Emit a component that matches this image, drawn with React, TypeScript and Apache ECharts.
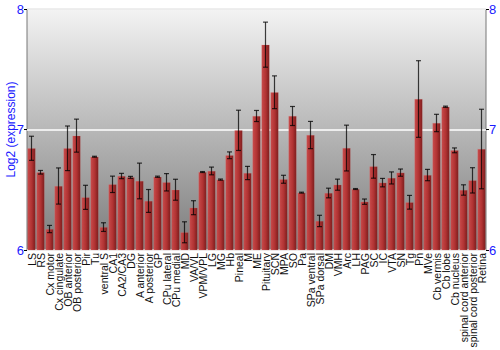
import React, { useEffect, useRef } from "react";
import * as echarts from "echarts";

const categories = [
  "LS", "RS", "Cx motor", "Cx cingulate", "OB anterior", "OB posterior", "Pir", "Tu", "ventral S", "CA1",
  "CA2/CA3", "DG", "A anterior", "A posterior", "GP", "CPu lateral", "CPu medial", "MD", "VA/VL", "VPM/VPL",
  "LG", "MG", "Hb", "Pineal", "M", "ME", "Pituitary", "SCN", "MPA", "SO",
  "Pa", "SPa ventral", "SPa dorsal", "DM", "VMH", "Arc", "LH", "PAG", "SC", "IC",
  "VTA", "SN", "Tg", "Pn", "MVe", "Cb vermis", "Cb lobe", "Cb nucleus", "spinal cord anterior", "spinal cord posterior",
  "Retina",
];

const values = [
  6.844, 6.645, 6.174, 6.531, 6.844, 6.949, 6.437, 6.774, 6.19, 6.545,
  6.614, 6.603, 6.573, 6.407, 6.608, 6.562, 6.5, 6.147, 6.351, 6.647,
  6.656, 6.584, 6.786, 6.993, 6.639, 7.112, 7.704, 7.309, 6.587, 7.112,
  6.476, 6.954, 6.241, 6.473, 6.542, 6.846, 6.506, 6.401, 6.694, 6.559,
  6.598, 6.642, 6.396, 7.253, 6.622, 7.054, 7.189, 6.827, 6.498, 6.578,
  6.838,
];

const errors = [
  0.1, 0.015, 0.03, 0.15, 0.185, 0.137, 0.1, 0.004, 0.036, 0.068,
  0.022, 0.008, 0.148, 0.095, 0.005, 0.072, 0.087, 0.087, 0.058, 0.004,
  0.032, 0.005, 0.028, 0.167, 0.055, 0.046, 0.187, 0.136, 0.033, 0.079,
  0.004, 0.113, 0.047, 0.04, 0.046, 0.19, 0.004, 0.022, 0.098, 0.035,
  0.05, 0.03, 0.057, 0.318, 0.047, 0.072, 0.005, 0.02, 0.043, 0.105,
  0.33,
];

const yTicks = [6, 7, 8];

export default function App() {
  const ref = useRef<HTMLDivElement>(null);
  useEffect(() => {
    if (!ref.current) return;
    const chart = echarts.init(ref.current, undefined, { renderer: "svg" });
    const errData = values.map((v, i) => [i, v - errors[i], v + errors[i]]);
    const blue = "#1a1aff";
    const yAxisCommon = {
      type: "value",
      min: yTicks[0],
      max: yTicks[yTicks.length - 1],
      interval: 1,
      axisLine: { show: false },
      axisTick: { show: true, length: 3, lineStyle: { color: "#000" } },
      axisLabel: { color: blue, fontSize: 13, fontFamily: "Liberation Sans, Arial, sans-serif", margin: 3 },
    };
    chart.setOption({
      animation: false,
      grid: {
        left: 27,
        right: 14,
        top: 9,
        bottom: 100,
        outerBoundsMode: "none",
        containLabel: false,
        show: true,
        borderColor: "#777",
        borderWidth: 1,
        backgroundColor: new echarts.graphic.LinearGradient(0, 0, 0, 1, [
          { offset: 0, color: "#f3f3f3" },
          { offset: 1, color: "#7c7c7c" },
        ]),
      },
      xAxis: {
        type: "category",
        data: categories,
        axisLine: { show: false },
        axisTick: { show: false },
        axisLabel: {
          interval: 0,
          rotate: 90,
          fontSize: 10.5,
          color: "#111",
          margin: 3,
          fontFamily: "Liberation Sans, Arial, sans-serif",
        },
      },
      yAxis: [
        {
          ...yAxisCommon,
          position: "left",
          name: "Log2 (expression)",
          nameLocation: "middle",
          nameGap: 10,
          nameMoveOverlap: false,
          nameTextStyle: { color: blue, fontSize: 12, fontFamily: "Liberation Sans, Arial, sans-serif" },
          splitLine: { show: true, lineStyle: { color: "#ffffff", width: 1.5 } },
        },
        {
          ...yAxisCommon,
          position: "right",
          splitLine: { show: false },
        },
      ],
      series: [
        {
          type: "bar",
          data: values,
          barCategoryGap: "10%",
          itemStyle: {
            color: new echarts.graphic.LinearGradient(0, 0, 1, 0, [
              { offset: 0, color: "#c84a4a" },
              { offset: 0.55, color: "#b03232" },
              { offset: 1, color: "#7a1c1c" },
            ]),
            borderColor: "rgba(230,140,140,0.35)",
            borderWidth: 0.5,
          },
        },
        {
          type: "custom",
          data: errData,
          z: 10,
          renderItem: (params: any, api: any) => {
            const x = api.value(0);
            const lo = api.coord([x, api.value(1)]);
            const hi = api.coord([x, api.value(2)]);
            const cap = 2.5;
            const style = { stroke: "rgba(0,0,0,0.75)", lineWidth: 1.2 };
            return {
              type: "group",
              children: [
                { type: "line", shape: { x1: lo[0], y1: lo[1], x2: hi[0], y2: hi[1] }, style },
                { type: "line", shape: { x1: lo[0] - cap, y1: lo[1], x2: lo[0] + cap, y2: lo[1] }, style },
                { type: "line", shape: { x1: hi[0] - cap, y1: hi[1], x2: hi[0] + cap, y2: hi[1] }, style },
              ],
            };
          },
        },
      ],
    });
    return () => chart.dispose();
  }, []);
  return <div ref={ref} style={{ width: 500, height: 350, position: "absolute", left: 0, top: 0 }} />;
}
